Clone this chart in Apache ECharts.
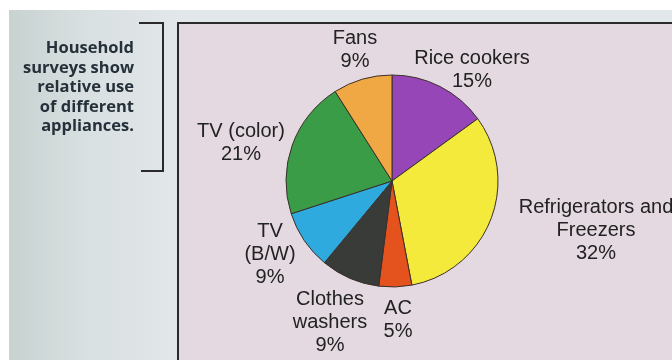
<!DOCTYPE html>
<html>
<head>
<meta charset="utf-8">
<script src="https://cdn.jsdelivr.net/npm/echarts@6/dist/echarts.min.js"></script>
<style>
  html, body { margin: 0; padding: 0; background: #ffffff; }
  #chart { width: 672px; height: 360px; }
</style>
</head>
<body>
<div id="chart"></div>
<script>
// Appliance use shares (percent), clockwise from 12 o'clock
const categories = [
  'Rice cookers',
  'Refrigerators and\nFreezers',
  'AC',
  'Clothes\nwashers',
  'TV\n(B/W)',
  'TV (color)',
  'Fans'
];
const shares = [15, 32, 5, 9, 9, 21, 9];
const sliceColors = ['#9646b6', '#f3ea3c', '#e4521e', '#393b39', '#2eaadf', '#3a9c46', '#f0a844'];
const caption = ['Household', 'surveys show', 'relative use', 'of different', 'appliances.'];

// Where each slice's label block is centred
const labelSpots = [
  [472, 70], [596, 230], [398, 320], [330, 322], [270, 254], [241, 143], [355, 50]
];

const chart = echarts.init(document.getElementById('chart'), null, { renderer: 'canvas' });

chart.setOption({
  animation: false,
  backgroundColor: '#ffffff',
  graphic: [
    // page background with a soft shade toward the left edge
    {
      type: 'rect', z: -10, silent: true,
      shape: { x: 9, y: 10, width: 663, height: 350 },
      style: {
        fill: new echarts.graphic.LinearGradient(0, 0, 1, 0, [
          { offset: 0, color: '#c8d2d1' },
          { offset: 0.12, color: '#d9e0e1' },
          { offset: 0.25, color: '#e2e7e9' },
          { offset: 1, color: '#e2e7e9' }
        ])
      }
    },
    // panel holding the pie
    {
      type: 'rect', z: -9, silent: true,
      shape: { x: 178, y: 23, width: 520, height: 360 },
      style: { fill: '#e4d9e0', stroke: '#2a2a2a', lineWidth: 2 }
    },
    // bracket beside the caption
    {
      type: 'polyline', z: -8, silent: true,
      shape: { points: [[139, 23], [163, 23], [163, 171], [141, 171]] },
      style: { stroke: '#2a2a2a', lineWidth: 2, fill: null }
    },
    {
      type: 'text', z: 5, silent: true,
      style: {
        x: 134, y: 39,
        text: caption.join('\n'),
        align: 'right', verticalAlign: 'top',
        font: '700 16.5px "Open Sans", sans-serif',
        lineHeight: 19.5,
        fill: '#25303a'
      }
    }
  ],
  series: [{
    type: 'pie',
    center: [392, 181],
    radius: [0, 106],
    startAngle: 90,
    clockwise: true,
    avoidLabelOverlap: false,
    data: categories.map((name, i) => ({
      name: name,
      value: shares[i],
      itemStyle: { color: sliceColors[i] }
    })),
    itemStyle: { borderColor: '#3b302a', borderWidth: 1 },
    emphasis: { disabled: true },
    label: {
      show: true,
      position: 'outside',
      formatter: p => p.name + '\n' + p.value + '%',
      fontFamily: '"Liberation Sans", Arial, sans-serif',
      fontSize: 20,
      lineHeight: 23,
      color: '#222222',
      align: 'center'
    },
    labelLine: { show: false },
    labelLayout: function (params) {
      const spot = labelSpots[params.dataIndex];
      return { x: spot[0], y: spot[1], align: 'center', verticalAlign: 'middle' };
    }
  }]
});
</script>
</body>
</html>
